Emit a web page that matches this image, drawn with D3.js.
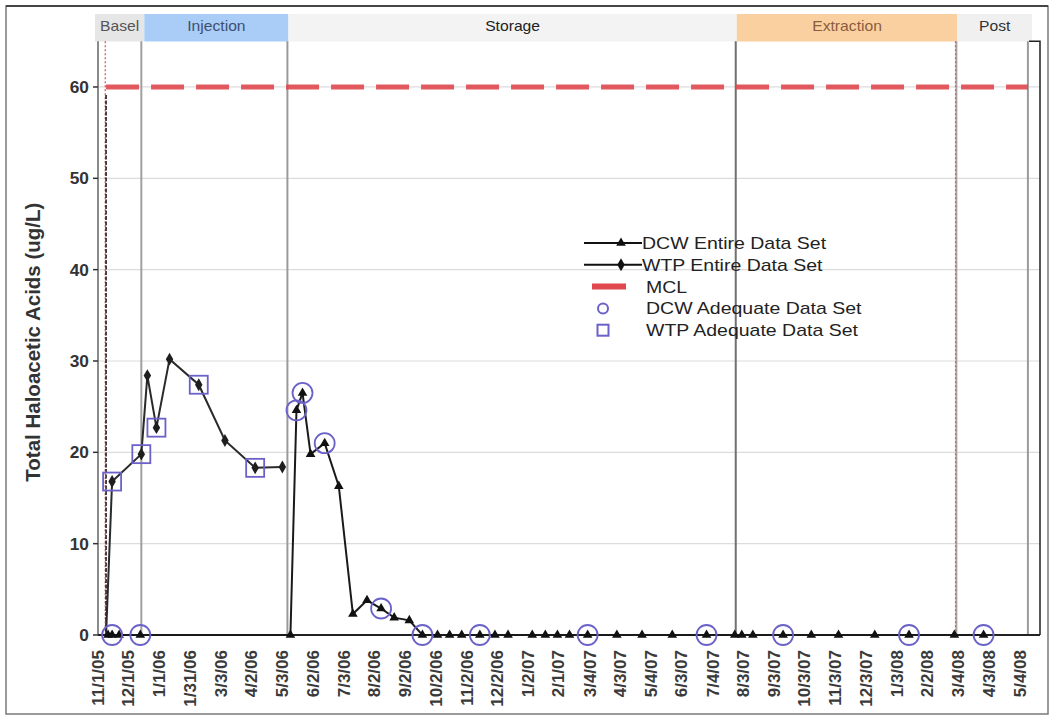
<!DOCTYPE html>
<html><head><meta charset="utf-8">
<script src="https://cdn.jsdelivr.net/npm/d3@7"></script>
<style>body{margin:0;background:#fff}svg{display:block}text{font-family:"Liberation Sans",Arial,sans-serif}</style>
</head><body><svg id="c" width="1053" height="719"></svg>
<script>
// ---------- data ----------
const xTickLabels = ["11/1/05","12/1/05","1/1/06","1/31/06","3/3/06","4/2/06","5/3/06","6/2/06","7/3/06","8/2/06","9/2/06","10/2/06","11/2/06","12/2/06","1/2/07","2/1/07","3/4/07","4/3/07","5/4/07","6/3/07","7/4/07","8/3/07","9/3/07","10/3/07","11/3/07","12/3/07","1/3/08","2/2/08","3/4/08","4/3/08","5/4/08"];
const yTicks = [0,10,20,30,40,50,60];

const dcwDates = ["11/11/05","11/15/05","11/22/05","12/13/05","5/11/06","5/17/06","5/23/06","5/31/06","6/14/06","6/28/06","7/12/06","7/26/06","8/9/06","8/22/06","9/6/06","9/19/06","10/4/06","10/16/06","10/28/06","11/15/06","11/30/06","12/13/06","1/6/07","1/19/07","1/31/07","2/12/07","3/2/07","3/31/07","4/25/07","5/25/07","6/28/07","7/26/07","8/2/07","8/13/07","9/12/07","10/10/07","11/6/07","12/12/07","1/15/08","2/29/08","3/29/08"];
const dcwValues = [0,0,0,0,0,24.6,26.5,19.8,21.0,16.3,2.3,3.8,2.9,1.9,1.6,0,0,0,0,0,0,0,0,0,0,0,0,0,0,0,0,0,0,0,0,0,0,0,0,0,0];
const dcwAdequateDates = ["11/15/05","12/13/05","5/17/06","5/23/06","6/14/06","8/9/06","9/19/06","11/15/06","3/2/07","6/28/07","9/12/07","1/15/08","3/29/08"];

const wtpDates = ["11/9/05","11/15/05","12/14/05","12/20/05","12/29/05","1/11/06","2/9/06","3/7/06","4/6/06","5/3/06"];
const wtpValues = [0,16.8,19.8,28.4,22.7,30.2,27.4,21.3,18.3,18.4];
const wtpAdequateDates = ["11/15/05","12/14/05","12/29/05","2/9/06","4/6/06"];

const mclDates = ["11/9/05","5/12/08"];
const mclValues = [60,60];

const phaseNames = ["Basel","Injection","Storage","Extraction","Post"];
const phaseStarts = ["10/29/05","12/17/05","5/9/06","7/28/07","3/3/08"];
const phaseEnds = ["12/17/05","5/9/06","7/28/07","3/3/08","5/16/08"];
const phaseFills = ["#e6e6e6","#a9cdf6","#f3f3f3","#fbd0a0","#f0f0f0"];
const phaseTextColors = ["#555","#3f4f72","#222","#8a5d3e","#333"];

const boundaryDates = ["12/14/05","5/8/06","7/27/07","3/2/08","5/12/08"];
const boundaryColors = ["#a0a0a0","#9a9a9a","#707070","#a8a8a8","#9a9a9a"];
const redBoundaryDates = ["11/9/05","3/2/08"];

const legendLabels = ["DCW Entire Data Set","WTP Entire Data Set","MCL","DCW Adequate Data Set","WTP Adequate Data Set"];

// ---------- layout ----------
const parse = d3.timeParse("%m/%d/%y");
const L = 98, R = 1040, T = 41.3, B = 635;
const x = d3.scaleTime().domain([parse("11/1/05"), parse("5/24/08")]).range([L, R]);
const y = d3.scaleLinear().domain([0,65]).range([B, T]);
const svg = d3.select("#c");
const adq = "#6a62c8";

svg.append("rect").attr("x",6).attr("y",6).attr("width",1042).attr("height",708)
  .attr("fill","#fff").attr("stroke","#7a7a7a").attr("stroke-width",1.5);
svg.append("line").attr("x1",6).attr("x2",1048).attr("y1",6).attr("y2",6).attr("stroke","#444").attr("stroke-width",2);

function sText(parent, px, py, str, size, opts={}) {
  const g = parent.append("g").attr("transform", `translate(${px},${py}) scale(${opts.sx||1.13},1)`);
  return g.append("text").text(str).attr("font-size", size)
    .attr("text-anchor", opts.anchor||"start")
    .attr("font-weight", opts.weight||"normal")
    .attr("fill", opts.fill||"#222");
}

// phase bands
const bands = svg.append("g");
phaseNames.forEach((n,i)=>{
  const x0 = x(parse(phaseStarts[i])), x1 = x(parse(phaseEnds[i]));
  bands.append("rect").attr("x",x0).attr("y",14).attr("width",x1-x0).attr("height",27.5).attr("fill",phaseFills[i]);
  sText(bands,(x0+x1)/2,31,n,14,{anchor:"middle",fill:phaseTextColors[i],sx:1.12});
});

// gridlines
svg.append("g").selectAll("line").data(yTicks.filter(d=>d>0)).join("line")
  .attr("x1",L).attr("x2",R).attr("y1",d=>y(d)).attr("y2",d=>y(d))
  .attr("stroke","#dcdcdc").attr("stroke-width",1.2);

// boundaries
svg.append("g").selectAll("line").data(boundaryDates).join("line")
  .attr("x1",d=>x(parse(d))).attr("x2",d=>x(parse(d))).attr("y1",T).attr("y2",B)
  .attr("stroke",(d,i)=>boundaryColors[i]).attr("stroke-width",2);
svg.append("g").selectAll("line").data(redBoundaryDates).join("line")
  .attr("x1",d=>x(parse(d))-0.8).attr("x2",d=>x(parse(d))-0.8).attr("y1",T).attr("y2",B)
  .attr("stroke","#e05a5a").attr("stroke-width",1.3).attr("stroke-dasharray","2,2");
svg.append("line").attr("x1",x(parse("11/9/05"))).attr("x2",x(parse("11/9/05"))).attr("y1",95).attr("y2",B)
  .attr("stroke","#222").attr("stroke-width",1.6).attr("stroke-dasharray","4,1.5");

// y axis
svg.append("line").attr("x1",L).attr("x2",L).attr("y1",T).attr("y2",B).attr("stroke","#8a8a8a").attr("stroke-width",2);
const ya = svg.append("g");
yTicks.forEach(v=>{
  ya.append("line").attr("x1",L-5).attr("x2",L).attr("y1",y(v)).attr("y2",y(v)).attr("stroke","#333").attr("stroke-width",1.5);
  sText(ya,L-9,y(v)+6,String(v),16.5,{anchor:"end",weight:"bold",fill:"#333",sx:1.05});
});
svg.append("text").attr("transform",`translate(40,${(T+B)/2+4}) rotate(-90)`)
  .attr("text-anchor","middle").attr("font-size",20.5).attr("font-weight","bold").attr("fill","#333")
  .text("Total Haloacetic Acids (ug/L)");

// right bracket
svg.append("path").attr("d",`M${R-11},${T} H${R} V${B}`).attr("fill","none").attr("stroke","#222").attr("stroke-width",1.5);

// x axis
svg.append("line").attr("x1",L).attr("x2",R).attr("y1",B).attr("y2",B).attr("stroke","#222").attr("stroke-width",1.8);
const xa = svg.append("g");
xTickLabels.forEach(s=>{
  const px = x(parse(s));
  xa.append("text").attr("transform",`translate(${px+6},650) rotate(-90)`)
    .attr("text-anchor","end").attr("font-size",17).attr("font-weight","bold").attr("fill","#3a3a3a").text(s);
});

// MCL
const mcl = mclDates.map((d,i)=>({d:parse(d),v:mclValues[i]}));
svg.append("path").datum(mcl).attr("d",d3.line().x(p=>x(p.d)).y(p=>y(p.v)))
  .attr("fill","none").attr("stroke","#e0474f").attr("stroke-width",5).attr("stroke-dasharray","33,12").attr("opacity",0.9);

// series
const line = d3.line().x(p=>x(p.d)).y(p=>y(p.v));
const dcw = dcwDates.map((d,i)=>({d:parse(d),v:dcwValues[i],k:d}));
const wtp = wtpDates.map((d,i)=>({d:parse(d),v:wtpValues[i],k:d}));

svg.append("path").datum(wtp).attr("d",line).attr("fill","none").attr("stroke","#2a2a2a").attr("stroke-width",2);
svg.append("path").datum(dcw).attr("d",line).attr("fill","none").attr("stroke","#1a1a1a").attr("stroke-width",2);

svg.append("g").selectAll("path").data(wtp.slice(1)).join("path")
  .attr("transform",p=>`translate(${x(p.d)},${y(p.v)})`).attr("d",d3.symbol(d3.symbolDiamond,48)).attr("fill","#1e1e1e");
svg.append("g").selectAll("path").data(dcw).join("path")
  .attr("transform",p=>`translate(${x(p.d)},${y(p.v)})`).attr("d",d3.symbol(d3.symbolTriangle,40)).attr("fill","#111");

// adequate sets
const dcwA = dcwAdequateDates.map(k=>dcw.find(p=>p.k===k));
const wtpA = wtpAdequateDates.map(k=>wtp.find(p=>p.k===k));
svg.append("g").selectAll("circle").data(dcwA).join("circle")
  .attr("cx",p=>x(p.d)).attr("cy",p=>y(p.v)).attr("r",10).attr("fill","none").attr("stroke",adq).attr("stroke-width",1.8);
svg.append("g").selectAll("rect").data(wtpA).join("rect")
  .attr("x",p=>x(p.d)-9).attr("y",p=>y(p.v)-9).attr("width",18).attr("height",18)
  .attr("fill","none").attr("stroke",adq).attr("stroke-width",1.8);

// legend
const lg = svg.append("g");
const rowY = i => 243 + i*21.8;
lg.append("line").attr("x1",584).attr("x2",642).attr("y1",rowY(0)).attr("y2",rowY(0)).attr("stroke","#111").attr("stroke-width",2);
lg.append("path").attr("transform",`translate(621,${rowY(0)})`).attr("d",d3.symbol(d3.symbolTriangle,40)).attr("fill","#111");
lg.append("line").attr("x1",584).attr("x2",642).attr("y1",rowY(1)).attr("y2",rowY(1)).attr("stroke","#111").attr("stroke-width",2);
lg.append("path").attr("transform",`translate(621,${rowY(1)})`).attr("d",d3.symbol(d3.symbolDiamond,48)).attr("fill","#111");
lg.append("line").attr("x1",592).attr("x2",626).attr("y1",rowY(2)).attr("y2",rowY(2)).attr("stroke","#e0474f").attr("stroke-width",6);
lg.append("circle").attr("cx",603).attr("cy",rowY(3)).attr("r",5).attr("fill","none").attr("stroke",adq).attr("stroke-width",2);
lg.append("rect").attr("x",597.5).attr("y",rowY(4)-5.5).attr("width",11).attr("height",11).attr("fill","none").attr("stroke",adq).attr("stroke-width",2);
legendLabels.forEach((s,i)=>{
  sText(lg, i<2?642:646, rowY(i)+6, s, 16.8, {fill:"#222",sx:1.16});
});
</script></body></html>
